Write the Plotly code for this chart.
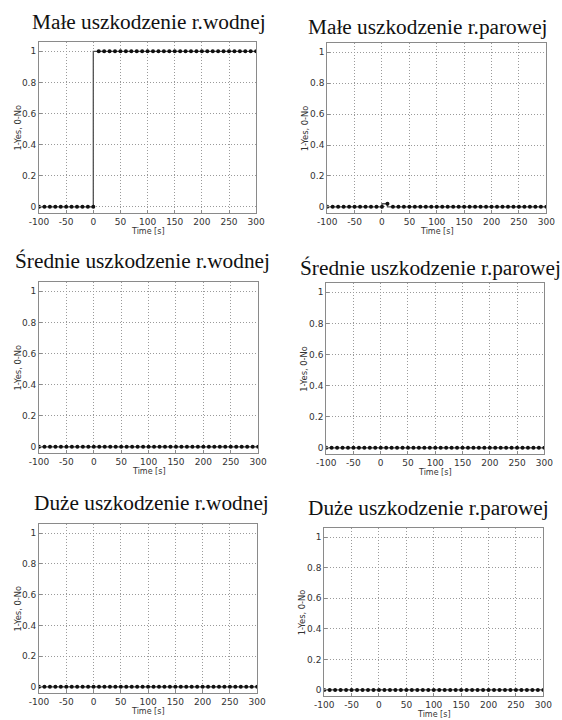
import plotly.graph_objects as go

time_s = [-100, -90, -80, -70, -60, -50, -40, -30, -20, -10, 0,
          10, 20, 30, 40, 50, 60, 70, 80, 90, 100,
          110, 120, 130, 140, 150, 160, 170, 180, 190, 200,
          210, 220, 230, 240, 250, 260, 270, 280, 290, 300]

male_wodnej = [0, 0, 0, 0, 0, 0, 0, 0, 0, 0, 0,
               1, 1, 1, 1, 1, 1, 1, 1, 1, 1,
               1, 1, 1, 1, 1, 1, 1, 1, 1, 1,
               1, 1, 1, 1, 1, 1, 1, 1, 1, 1]
male_parowej = [0, 0, 0, 0, 0, 0, 0, 0, 0, 0, 0,
                0.02, 0, 0, 0, 0, 0, 0, 0, 0, 0,
                0, 0, 0, 0, 0, 0, 0, 0, 0, 0,
                0, 0, 0, 0, 0, 0, 0, 0, 0, 0]
srednie_wodnej = [0, 0, 0, 0, 0, 0, 0, 0, 0, 0, 0,
                  0, 0, 0, 0, 0, 0, 0, 0, 0, 0,
                  0, 0, 0, 0, 0, 0, 0, 0, 0, 0,
                  0, 0, 0, 0, 0, 0, 0, 0, 0, 0]
srednie_parowej = [0, 0, 0, 0, 0, 0, 0, 0, 0, 0, 0,
                   0, 0, 0, 0, 0, 0, 0, 0, 0, 0,
                   0, 0, 0, 0, 0, 0, 0, 0, 0, 0,
                   0, 0, 0, 0, 0, 0, 0, 0, 0, 0]
duze_wodnej = [0, 0, 0, 0, 0, 0, 0, 0, 0, 0, 0,
               0, 0, 0, 0, 0, 0, 0, 0, 0, 0,
               0, 0, 0, 0, 0, 0, 0, 0, 0, 0,
               0, 0, 0, 0, 0, 0, 0, 0, 0, 0]
duze_parowej = [0, 0, 0, 0, 0, 0, 0, 0, 0, 0, 0,
                0, 0, 0, 0, 0, 0, 0, 0, 0, 0,
                0, 0, 0, 0, 0, 0, 0, 0, 0, 0,
                0, 0, 0, 0, 0, 0, 0, 0, 0, 0]

titles = ["Małe uszkodzenie r.wodnej", "Małe uszkodzenie r.parowej",
          "Średnie uszkodzenie r.wodnej", "Średnie uszkodzenie r.parowej",
          "Duże uszkodzenie r.wodnej", "Duże uszkodzenie r.parowej"]
series = [male_wodnej, male_parowej, srednie_wodnej, srednie_parowej,
          duze_wodnej, duze_parowej]
x_ticks = [-100, -50, 0, 50, 100, 150, 200, 250, 300]
x_tick_text = ["-100", "-50", "0", "50", "100", "150", "200", "250", "300"]
y_ticks = [0, 0.2, 0.4, 0.6, 0.8, 1]
y_tick_text = ["0", "0.2", "0.4", "0.6", "0.8", "1"]
x_title = "Time [s]"
y_title = "1-Yes, 0-No"

W, H = 562, 720
# target on-screen pixel boxes: (left, right, top, bottom, title_cx, title_cy)
boxes = [
    (39, 256, 42, 213, 149, 22),
    (327, 546, 43, 213, 428, 27),
    (39, 258, 282, 453, 142, 261),
    (326, 544, 283, 454, 430, 268),
    (39, 257, 524, 693, 151, 503),
    (324, 543, 528, 696, 428, 508),
]

# observed horizontal mapping of the capture: screen_x = SX * fig_x + OX
SX, OX = 0.9656, 10.0


def fx(px):
    return (px - OX) / SX / W


def fy(py):
    return 1 - py / H


small_font = dict(family="DejaVu Sans, Arial", size=8, color="#333333")
fig = go.Figure()
annotations = []
layout_axes = {}
for i, (vals, title, box) in enumerate(zip(series, titles, boxes)):
    l, r, t, b, tcx, tcy = box
    n = "" if i == 0 else str(i + 1)
    fig.add_trace(go.Scatter(
        x=time_s, y=vals, mode="lines+markers",
        line=dict(color="#505050", width=1.3, shape="vh"),
        marker=dict(color="#111111", size=4, symbol="circle"),
        xaxis="x" + n, yaxis="y" + n, showlegend=False,
    ))
    axcommon = dict(
        showline=True, linecolor="#8a8a8a", linewidth=1, mirror=True,
        showgrid=True, gridcolor="#9a9a9a", griddash="1px,2px", gridwidth=1,
        zeroline=False, ticks="inside", ticklen=3, tickcolor="#8a8a8a",
        tickfont=dict(family="DejaVu Sans, Arial", size=9, color="#333333"),
    )
    layout_axes["xaxis" + n] = dict(
        axcommon, domain=[fx(l), fx(r)], anchor="y" + n,
        range=[-100, 300], tickvals=x_ticks, ticktext=x_tick_text,
    )
    layout_axes["yaxis" + n] = dict(
        axcommon, domain=[fy(b), fy(t)], anchor="x" + n,
        range=[-0.04, 1.06], tickvals=y_ticks, ticktext=y_tick_text,
    )
    annotations.append(dict(
        text=title, x=fx(tcx), y=fy(tcy), xref="paper", yref="paper",
        xanchor="center", yanchor="middle", showarrow=False,
        font=dict(family="Liberation Serif, Times New Roman, serif", size=21.3, color="#111111"),
    ))
    annotations.append(dict(
        text=x_title, x=fx((l + r) / 2), y=fy(b + 18.5), xref="paper", yref="paper",
        xanchor="center", yanchor="middle", showarrow=False, font=small_font,
    ))
    annotations.append(dict(
        text=y_title, x=fx(l - 22), y=fy((t + b) / 2), xref="paper", yref="paper",
        xanchor="center", yanchor="middle", showarrow=False, textangle=-90,
        font=dict(small_font, size=8.3),
    ))

fig.update_layout(
    width=W, height=H, margin=dict(l=0, r=0, t=0, b=0),
    paper_bgcolor="white", plot_bgcolor="white",
    annotations=annotations, **layout_axes,
)
fig.write_html("out.html", config={"displayModeBar": False},
               post_script="document.body.style.margin='0';")
